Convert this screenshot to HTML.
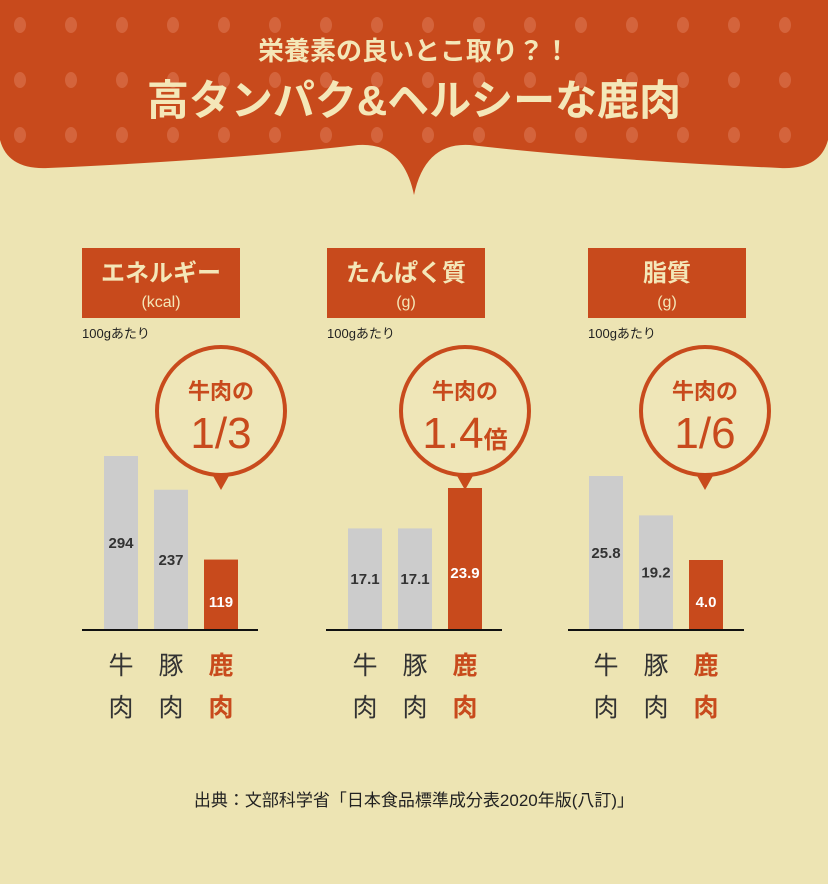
<!DOCTYPE html>
<html><head><meta charset="utf-8"><style>
body{margin:0;width:828px;height:884px;background:#ede4b3;overflow:hidden;font-family:"Liberation Sans","Noto Sans CJK JP",sans-serif}
svg{display:block}
</style></head><body>
<svg id="chart" width="828" height="884" viewBox="0 0 828 884">
<defs><pattern id="dots" x="0" y="0" width="51" height="55" patternUnits="userSpaceOnUse"><ellipse cx="20" cy="25" rx="6" ry="8" fill="#d4643c"/></pattern></defs>
<g>
<path d="M0 0 H828 V140 Q820 170 780 168 Q600 160 470 145 Q425 142 414 195 Q403 142 358 145 Q228 160 48 168 Q8 170 0 140 Z" fill="#c84a1c"/>
<path d="M0 0 H828 V140 Q820 170 780 168 Q600 160 470 145 Q425 142 414 195 Q403 142 358 145 Q228 160 48 168 Q8 170 0 140 Z" fill="url(#dots)"/>
<text x="414" y="60" text-anchor="middle" font-size="26" font-weight="bold" fill="#f4e7b8">栄養素の良いとこ取り？！</text>
<text x="414" y="115" text-anchor="middle" font-size="42" font-weight="bold" fill="#f4e7b8">高タンパク&amp;ヘルシーな鹿肉</text>
</g>
<text x="414" y="806" text-anchor="middle" font-size="17" fill="#222">出典：文部科学省「日本食品標準成分表2020年版(八訂)」</text>
</svg>
<script>
const panelTitles=["エネルギー","たんぱく質","脂質"];
const panelUnits=["(kcal)","(g)","(g)"];
const calloutTexts=["1/3","1.4","1/6"];
const calloutSuffix=["","倍",""];
const categoriesA=["牛","豚","鹿"];
const energyValues=[294,237,119];
const proteinValues=[17.1,17.1,23.9];
const fatValues=[25.8,19.2,4.0];
const valueLabels=[["294","237","119"],["17.1","17.1","23.9"],["25.8","19.2","4.0"]];
const series=[energyValues,proteinValues,fatValues];
const NS="http://www.w3.org/2000/svg";
const svg=document.getElementById('chart');
const layouts=[{hx:82,lx:82,bx:104,cx:221,k:174/294},{hx:327,lx:326,bx:348,cx:465,k:142/23.9},{hx:588,lx:568,bx:589,cx:705,k:154/25.8}];
function el(t,a,p){const e=document.createElementNS(NS,t);for(const k in a)e.setAttribute(k,a[k]);(p||svg).appendChild(e);return e;}
const base=630;
series.forEach((vals,p)=>{
 const L=layouts[p];
 const g=el('g',{});
 
 
 const hb=el('rect',{x:L.hx,y:248,width:158,height:70,fill:'#c84a1c'},g);
 
 
 const t1=el('text',{x:L.hx+79,y:281,'text-anchor':'middle','font-size':24,'font-weight':'bold',fill:'#f4e7b8'},g);t1.textContent=panelTitles[p];
 
 
 const t2=el('text',{x:L.hx+79,y:307,'text-anchor':'middle','font-size':16,fill:'#f4e7b8'},g);t2.textContent=panelUnits[p];
 
 
 const t3=el('text',{x:L.hx,y:338,'font-size':13,fill:'#222'},g);t3.textContent='100gあたり';
 
 
 const yv=v=>Math.max(v*L.k,70);
 vals.forEach((v,i)=>{
  const h=yv(v),x=L.bx+i*50,deer=i===2;
  const r=el('rect',{x:x,y:base-h,width:34,height:h,fill:deer?'#c84a1c':'#cccccc'},g);
  
  
  const vt=el('text',{x:x+17,y:base-h/2+5+(deer?h*0.1:0),'text-anchor':'middle','font-size':15,'font-weight':'bold',fill:deer?'#fff':'#333'},g);vt.textContent=valueLabels[p][i];
  
  
  const c1=el('text',{x:x+17,y:674,'text-anchor':'middle','font-size':25,'font-weight':deer?'bold':'normal',fill:deer?'#c84a1c':'#333'},g);c1.textContent=categoriesA[i];
  
  
  const c2=el('text',{x:x+17,y:716,'text-anchor':'middle','font-size':25,'font-weight':deer?'bold':'normal',fill:deer?'#c84a1c':'#333'},g);c2.textContent='肉';
  
  
 });
 const ax=el('line',{x1:L.lx,x2:L.lx+176,y1:base,y2:base,stroke:'#111','stroke-width':2},g);
 
 
 const cb=el('g',{},g);
 
 
 el('circle',{cx:L.cx,cy:411,r:64,fill:'#efe6b8',stroke:'#c84a1c','stroke-width':4},cb);
 el('path',{d:`M${L.cx-9} 474 L${L.cx+9} 474 L${L.cx} 490 Z`,fill:'#c84a1c'},cb);
 const b1=el('text',{x:L.cx,y:399,'text-anchor':'middle','font-size':22,'font-weight':'bold',fill:'#c84a1c'},cb);b1.textContent='牛肉の';
 const b2=el('text',{x:L.cx,y:448,'text-anchor':'middle','font-size':44,fill:'#c84a1c'},cb);
 b2.appendChild(document.createTextNode(calloutTexts[p]));
 if(calloutSuffix[p]){const s=el('tspan',{'font-size':24,'font-weight':'bold'},b2);s.textContent=calloutSuffix[p];}
});
</script>
</body></html>
